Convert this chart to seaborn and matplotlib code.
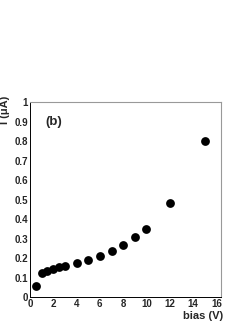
import matplotlib
matplotlib.use("Agg")
import matplotlib.pyplot as plt
from matplotlib.ticker import MultipleLocator, FuncFormatter
import seaborn as sns
import pandas as pd

# bias scan data
bias = [0.5, 1, 1.5, 2, 2.5, 3, 4, 5, 6, 7, 8, 9, 10, 12, 15]
current = [0.057, 0.122, 0.133, 0.142, 0.154, 0.161, 0.174, 0.191, 0.211, 0.239, 0.269, 0.306, 0.349, 0.483, 0.798]

df = pd.DataFrame({'bias': bias, 'I': current})

sns.set_style('white')
plt.rcParams['font.family'] = ['Liberation Sans', 'DejaVu Sans']
plt.rcParams['font.weight'] = 'bold'

fig = plt.figure(figsize=(2.49, 3.23), dpi=100)
ax = fig.add_axes([0.12, 0.08, 0.768, 0.604])
sns.scatterplot(data=df, x='bias', y='I', ax=ax, color='black', s=40, edgecolor='black', linewidth=0)

ax.set_xlim(0, 16.4)
ax.set_ylim(0, 1)
ax.xaxis.set_major_locator(MultipleLocator(2))
ax.xaxis.set_minor_locator(MultipleLocator(0.5))
ax.yaxis.set_major_locator(MultipleLocator(0.1))
ax.yaxis.set_minor_locator(MultipleLocator(0.02))
ax.yaxis.set_major_formatter(FuncFormatter(lambda v, p: ('%g' % round(v, 2))))
ax.tick_params(which='both', direction='in', top=False, right=False, labelsize=7, pad=1.5)
ax.tick_params(which='major', length=4, width=0.6)
ax.tick_params(which='minor', length=2, width=0.5)
for t in ax.get_xticklabels() + ax.get_yticklabels():
    t.set_fontweight('bold')

for side in ['left', 'bottom']:
    ax.spines[side].set_color('black')
    ax.spines[side].set_linewidth(0.7)
for side in ['top', 'right']:
    ax.spines[side].set_color('#999999')
    ax.spines[side].set_linewidth(0.8)

ax.set_xlabel('')
ax.set_ylabel('')
ax.text(1.01, -0.07, 'bias (V)', transform=ax.transAxes, fontsize=8,
        fontweight='bold', ha='right', va='top')
ax.text(-0.128, 1.03, 'I (μA)', transform=ax.transAxes, fontsize=8,
        fontweight='bold', ha='center', va='top', rotation=90)
ax.text(1.3, 0.9, '(b)', fontsize=9.5, fontweight='bold', va='center')

fig.savefig('out.png', dpi=100)
